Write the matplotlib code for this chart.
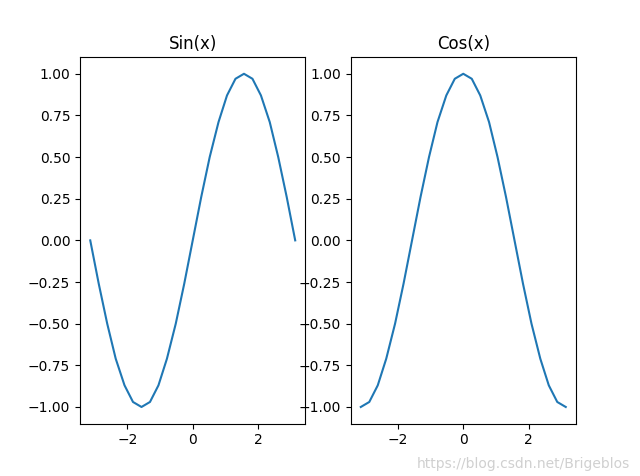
import matplotlib
matplotlib.use("Agg")
import matplotlib.pyplot as plt

# values, x from -pi to pi
x_vals = [-3.14, -2.88, -2.62, -2.36, -2.09, -1.83, -1.57, -1.31, -1.05, -0.79,
          -0.52, -0.26, 0.0, 0.26, 0.52, 0.79, 1.05, 1.31, 1.57, 1.83,
          2.09, 2.36, 2.62, 2.88, 3.14]
sin_vals = [0.0, -0.26, -0.50, -0.71, -0.87, -0.97, -1.0, -0.97, -0.87, -0.71,
            -0.50, -0.26, 0.0, 0.26, 0.50, 0.71, 0.87, 0.97, 1.0, 0.97,
            0.87, 0.71, 0.50, 0.26, 0.0]
cos_vals = [-1.0, -0.97, -0.87, -0.71, -0.50, -0.26, 0.0, 0.26, 0.50, 0.71,
            0.87, 0.97, 1.0, 0.97, 0.87, 0.71, 0.50, 0.26, 0.0, -0.26,
            -0.50, -0.71, -0.87, -0.97, -1.0]
titles = ["Sin(x)", "Cos(x)"]

fig, axes = plt.subplots(1, 2, figsize=(6.4, 4.76), dpi=100)
for ax, ys, title in zip(axes, [sin_vals, cos_vals], titles):
    ax.plot(x_vals, ys)
    ax.set_title(title)

fig.text(0.985, 0.01, "https://blog.csdn.net/Brigeblos", ha="right", va="bottom",
         fontsize=10, color="#d0d0d0")

fig.savefig("out.png", dpi=100)
